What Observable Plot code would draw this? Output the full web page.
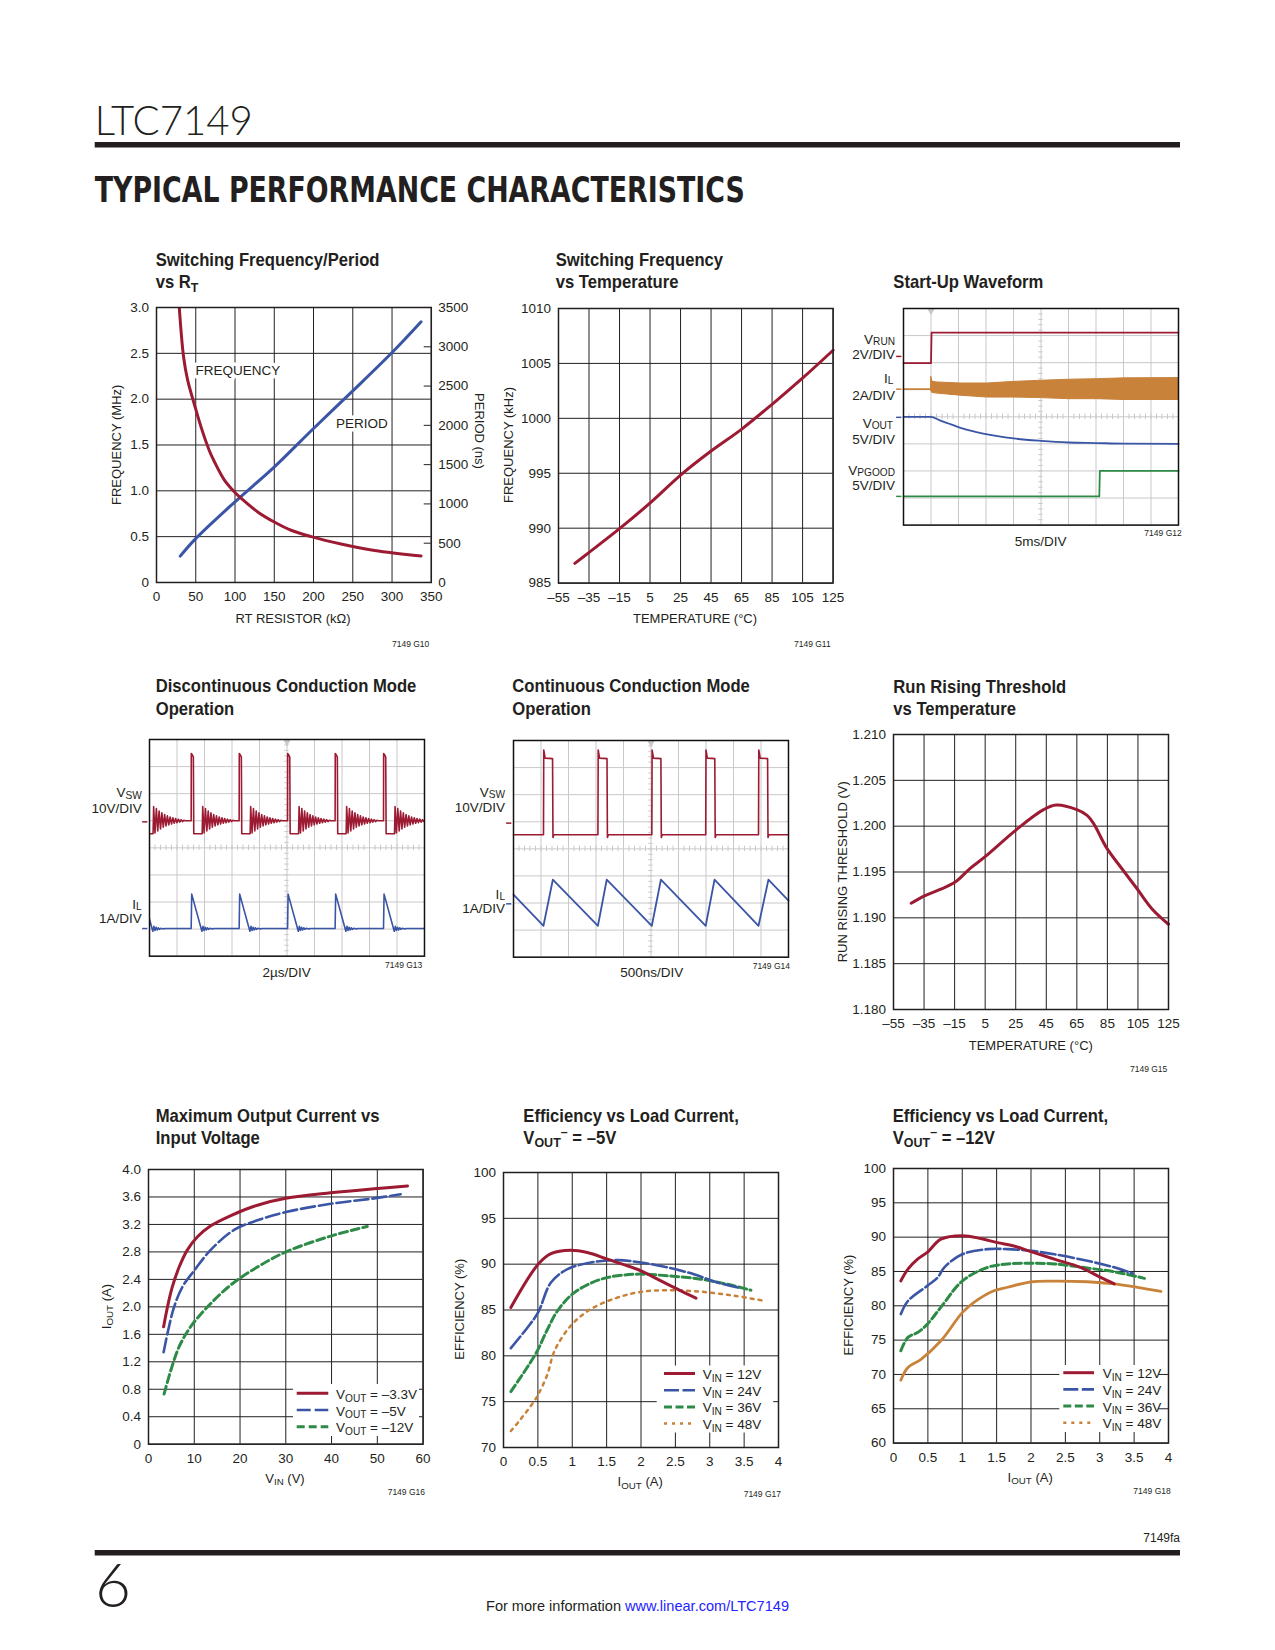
<!DOCTYPE html>
<html><head><meta charset="utf-8">
<script src="https://cdn.jsdelivr.net/npm/d3@7"></script>
<script src="https://cdn.jsdelivr.net/npm/@observablehq/plot@0.6"></script>
<style>
html,body{margin:0;padding:0;background:#fff;}
#page{position:relative;width:1275px;height:1650px;overflow:hidden;background:#fff;}
#overlay{position:absolute;left:0;top:0;pointer-events:none;overflow:visible;}
</style></head><body><div id="page"></div>
<script>
// ---------- colours / fonts ----------
const RED="#9c1b33", BLUE="#3a55a5", GREEN="#2e8b47", ORANGE="#c8823a", INK="#231f20", SGRID="#c9c9c9";
const FONT="'Liberation Sans Narrow','Arial Narrow',sans-serif";
const BOLDFONT="'Liberation Sans',Arial,sans-serif";

// ---------- Chart 1: Switching Frequency/Period vs RT ----------
const rtResF = [29, 34.5, 39.6, 48, 56.6, 67.2, 73.6, 86.3, 99, 107.6, 128.9, 150, 171.4, 197, 235, 277.8, 337];
const rtFreq = [3.0, 2.46, 2.21, 1.95, 1.70, 1.44, 1.32, 1.12, 0.99, 0.92, 0.77, 0.66, 0.57, 0.50, 0.42, 0.35, 0.29];
const rtResP = [30.2, 49.3, 100, 150.2, 200, 251, 301, 337];
const rtPeriod = [335, 552, 1027, 1472, 1960, 2448, 2936, 3318];
const rtTicksX = [0,50,100,150,200,250,300,350];
const rtTicksY = [0,0.5,1,1.5,2,2.5,3];
const periodTicks = [0,500,1000,1500,2000,2500,3000,3500];
const periodMax = 3500, freqMax = 3;

// ---------- Chart 2: Switching Frequency vs Temperature ----------
const tempF = [-44.3, -34.9, -14.6, 5.1, 25.6, 44.8, 64.9, 85.2, 105.3, 125];
const freqT = [986.8, 987.8, 990.0, 992.3, 994.9, 997.0, 999.0, 1001.3, 1003.7, 1006.2];
const tempTicks = [-55,-35,-15,5,25,45,65,85,105,125];
const freqTTicks = [985,990,995,1000,1005,1010];

// ---------- Chart 3: Start-Up Waveform (divisions) ----------
const vrunX = [0, 1.0, 1.02, 10];
const vrunY = [5.98, 5.98, 7.11, 7.11];
const ilPreX = [0, 1.0];
const ilPreY = [5.02, 5.02];
const ilBandX  = [1.0, 1.01, 1.05, 1.2, 2.07, 3.06, 4.03, 5.0, 6.03, 7.06, 8.03, 10];
const ilBandHi = [5.02, 5.48, 5.30, 5.27, 5.23, 5.23, 5.29, 5.33, 5.37, 5.39, 5.42, 5.43];
const ilBandLo = [5.02, 4.95, 4.88, 4.86, 4.78, 4.71, 4.71, 4.69, 4.65, 4.65, 4.62, 4.62];
const voutX = [0, 1.0, 1.3, 1.7, 2.2, 2.9, 4.0, 5.0, 6.0, 7.0, 8.0, 10];
const voutY = [4.0, 4.0, 3.88, 3.73, 3.55, 3.38, 3.2, 3.11, 3.05, 3.03, 3.01, 3.0];
const pgX = [0, 7.12, 7.14, 10];
const pgY = [1.06, 1.06, 2.0, 2.0];
const startMarkers = [6.23, 5.02, 3.98, 1.06];

// ---------- Chart 4: DCM (divisions) ----------
const dcmStarts = [-0.27, 1.515, 3.26, 5.02, 6.75, 8.51];
const dcmSwT = [0,0.005,0.05,0.08,0.095,0.40,0.42,0.47,0.52,0.57,0.62,0.67,0.72,0.77,0.82,0.87,0.92,0.97,1.02,1.07,1.12,1.17,1.22,1.27,1.32,1.37,1.42,1.47,1.52,1.57];
const dcmSwV = [5.0,7.48,7.42,7.35,4.52,4.52,5.52,4.55,5.45,4.62,5.36,4.70,5.29,4.76,5.23,4.81,5.18,4.85,5.14,4.88,5.11,4.91,5.08,4.93,5.06,4.95,5.04,4.97,5.02,5.0];
const dcmIlT = [0,0.02,0.39,0.43,0.47,0.51,0.55,0.59,0.63,0.68,0.75,0.85];
const dcmIlV = [1.02,2.29,0.92,1.10,0.95,1.07,0.97,1.05,0.99,1.03,1.01,1.02];
const dcmMarkers = [4.96, 1.02];

// ---------- Chart 5: CCM (divisions) ----------
const ccmRise = [1.09, 3.07, 5.03, 6.99, 8.91];
const ccmPulseT = [0, 0.01, 0.06, 0.33, 0.345, 0.38];
const ccmPulseV = [4.52, 7.65, 7.35, 7.33, 4.42, 4.52];
const ccmIlX = [0, 1.09, 1.43, 3.07, 3.39, 5.03, 5.36, 6.99, 7.31, 8.91, 9.27, 10];
const ccmIlY = [2.31, 1.16, 2.86, 1.16, 2.86, 1.16, 2.86, 1.16, 2.86, 1.16, 2.86, 2.09];
const ccmMarkers = [4.95, 1.97];

// ---------- Chart 6: Run Rising Threshold vs Temperature ----------
const tempR = [-43.4,-34.7,-24.5,-14.6,-4.8,5.2,25.3,43.2,51.5,65,71.5,75.9,84.6,93.4,104.3,114.1,125];
const runThr = [1.1916,1.1924,1.1931,1.1939,1.1954,1.1967,1.1996,1.2018,1.2023,1.2018,1.2012,1.2003,1.1976,1.1956,1.1932,1.1910,1.1893];
const runTicks = [1.18,1.185,1.19,1.195,1.2,1.205,1.21];

// ---------- Chart 7: Maximum Output Current vs Input Voltage ----------
const vin33 = [3.3,4.15,5.2,6.7,8.5,10.7,13.6,18,23.8,30,39.8,49.3,56.6];
const iout33 = [1.71,2.0,2.29,2.58,2.83,3.02,3.18,3.33,3.48,3.58,3.66,3.72,3.76];
const vin5 = [3.3,4.3,5.6,7.4,10,13.6,18.7,23.8,30,39.8,49.3,55.1];
const iout5 = [1.34,1.66,2.0,2.29,2.53,2.83,3.12,3.26,3.38,3.5,3.58,3.64];
const vin12 = [3.4,4.9,6.7,9.2,12.9,18,23.8,30,39.8,47.8];
const iout12 = [0.73,1.08,1.42,1.71,2.0,2.32,2.58,2.8,3.03,3.17];
const vinTicks = [0,10,20,30,40,50,60];
const ioutTicks = [0,0.4,0.8,1.2,1.6,2.0,2.4,2.8,3.2,3.6,4.0];

// ---------- Chart 8: Efficiency, VOUT = -5V ----------
const e5x12 = [0.107,0.504,0.69,0.98,1.22,1.51,1.76,2.0,2.24,2.53,2.8];
const e5y12 = [85.27,90.0,91.16,91.53,91.27,90.55,89.93,89.27,88.36,87.27,86.29];
const e5x24 = [0.107,0.35,0.504,0.69,0.93,1.27,1.66,2.0,2.39,2.77,3.11,3.45];
const e5y24 = [80.84,83.1,84.73,88.0,89.45,90.18,90.44,90.18,89.64,88.9,88.0,87.38];
const e5x36 = [0.107,0.47,0.64,0.785,1.03,1.42,1.9,2.39,2.87,3.26,3.6];
const e5y36 = [76.1,80.25,82.9,84.9,86.9,88.36,88.9,88.73,88.36,87.8,87.16];
const e5x48 = [0.107,0.23,0.45,0.52,0.64,0.74,0.98,1.27,1.66,2.0,2.39,2.87,3.36,3.79];
const e5y48 = [71.8,72.9,75.1,76.0,78.0,80.5,83.3,85.1,86.36,86.98,87.16,87.0,86.55,86.0];
const iTicks = [0,0.5,1,1.5,2,2.5,3,3.5,4];
const eff5Ticks = [70,75,80,85,90,95,100];

// ---------- Chart 9: Efficiency, VOUT = -12V ----------
const e12x12 = [0.107,0.21,0.35,0.49,0.69,1.0,1.27,1.51,1.75,2.0,2.34,2.72,3.02,3.21];
const e12y12 = [83.64,85.34,86.8,87.77,89.7,90.2,89.8,89.2,88.7,87.9,86.8,85.6,84.1,83.2];
const e12x24 = [0.107,0.21,0.49,0.64,0.74,1.0,1.37,1.66,2.0,2.34,2.82,3.21,3.48];
const e12y24 = [78.8,80.7,82.9,84.1,85.6,87.5,88.25,88.25,88.0,87.5,86.55,85.6,84.7];
const e12x36 = [0.107,0.21,0.35,0.49,0.69,1.0,1.37,1.66,2.0,2.34,2.82,3.21,3.65];
const e12y36 = [73.45,75.4,76.1,77.3,79.8,83.6,85.6,86.1,86.2,86.1,85.5,84.95,84.0];
const e12x48 = [0.107,0.21,0.4,0.69,1.0,1.17,1.46,1.66,2.0,2.34,2.82,3.21,3.55,3.89];
const e12y48 = [69.17,71.0,72.2,74.9,79.0,80.5,82.2,82.7,83.5,83.6,83.5,83.2,82.7,82.1];
const eff12Ticks = [60,65,70,75,80,85,90,95,100];

// scope grid structure
const divX = [0,1,2,3,4,5,6,7,8,9,10];
const divY = [0,1,2,3,4,5,6,7,8];
const minorX = d3.range(0, 10.001, 0.2);
const minorY = d3.range(0, 8.001, 0.2);

// ---------- helpers ----------
const page = document.getElementById("page");
const pts = (xs, ys) => xs.map((x, i) => ({x, y: ys[i]}));
const fmtT = d => d < 0 ? "–" + Math.abs(d) : String(d);
const fmt1 = d => d === 0 ? "0" : d.toFixed(1);
function place(svg, left, top) {
  svg.style.position = "absolute";
  svg.style.left = left + "px";
  svg.style.top = top + "px";
  svg.style.overflow = "visible";
  svg.style.background = "transparent";
  page.appendChild(svg);
}
const baseStyle = {fontFamily: FONT, fontSize: "13.5px", color: INK, background: "transparent", overflow: "visible"};

function stdPlot({L, T, R, B, xDomain, yDomain, xTicks, yTicks, xFmt, yFmt, marks}) {
  const ml = 70, mr = 70, mt = 10, mb = 40;
  const svg = Plot.plot({
    width: (R - L) + ml + mr, height: (B - T) + mt + mb,
    marginLeft: ml, marginRight: mr, marginTop: mt, marginBottom: mb,
    x: {domain: xDomain}, y: {domain: yDomain},
    style: baseStyle,
    marks: [
      Plot.gridX(xTicks, {stroke: INK, strokeOpacity: 1, strokeWidth: 1}),
      Plot.gridY(yTicks, {stroke: INK, strokeOpacity: 1, strokeWidth: 1}),
      ...marks,
      Plot.axisX(xTicks, {tickSize: 0, tickPadding: 9, tickFormat: xFmt || String, label: null}),
      Plot.axisY(yTicks, {tickSize: 0, tickPadding: 7.5, tickFormat: yFmt || String, label: null}),
      Plot.frame({stroke: INK, strokeWidth: 1.5})
    ]
  });
  place(svg, L - ml, T - mt);
}

function scopePlot({L, T, R, B, trig, markers, marks}) {
  const ml = 70, mr = 10, mt = 10, mb = 10;
  const svg = Plot.plot({
    width: (R - L) + ml + mr, height: (B - T) + mt + mb,
    marginLeft: ml, marginRight: mr, marginTop: mt, marginBottom: mb,
    x: {domain: [0, 10], axis: null}, y: {domain: [0, 8], axis: null},
    style: baseStyle,
    marks: [
      Plot.gridX(divX, {stroke: SGRID, strokeOpacity: 1, strokeWidth: 1}),
      Plot.gridY(divY, {stroke: SGRID, strokeOpacity: 1, strokeWidth: 1}),
      Plot.ruleX(minorX, {y1: 3.9, y2: 4.1, stroke: SGRID, strokeWidth: 1}),
      Plot.ruleY(minorY, {x1: 4.92, x2: 5.08, stroke: SGRID, strokeWidth: 1}),
      Plot.dot([trig], {x: d => d, y: 8, symbol: "triangle", r: 3, fill: SGRID, rotate: 180, dy: 2}),
      ...markers.map(([v, c]) => Plot.ruleY([v], {x1: -0.25, x2: -0.06, stroke: c, strokeWidth: 1.5})),
      ...marks,
      Plot.frame({stroke: "#111", strokeWidth: 1.5})
    ]
  });
  place(svg, L - ml, T - mt);
}

function cycles(starts, relT, relV, tail) {
  const out = [];
  for (const s of starts) relT.forEach((t, i) => out.push({x: s + t, y: relV[i]}));
  if (tail) out.push(tail);
  return out;
}

// ---------- Chart 1 ----------
stdPlot({
  L: 155.7, T: 307.3, R: 430.5, B: 582.3,
  xDomain: [0, 350], yDomain: [0, 3], xTicks: rtTicksX, yTicks: rtTicksY, yFmt: fmt1,
  marks: [
    Plot.ruleY(periodTicks.map(p => p * freqMax / periodMax), {x1: 341, x2: 350, stroke: INK, strokeWidth: 1}),
    Plot.axisY(periodTicks.map(p => p * freqMax / periodMax), {anchor: "right", tickSize: 0, tickPadding: 7,
      tickFormat: d => String(Math.round(d * periodMax / freqMax)), label: null}),
    Plot.text([{x: 103.7, y: 2.31, t: "FREQUENCY"}, {x: 261.6, y: 1.735, t: "PERIOD"}],
      {x: "x", y: "y", text: "t", fill: INK, stroke: "white", strokeWidth: 7, paintOrder: "stroke", fontSize: 13.5}),
    Plot.line(pts(rtResP, rtPeriod), {x: "x", y: d => d.y * freqMax / periodMax, stroke: BLUE, strokeWidth: 3, curve: "catmull-rom"}),
    Plot.line(pts(rtResF, rtFreq), {x: "x", y: "y", stroke: RED, strokeWidth: 3, curve: "catmull-rom", clip: true})
  ]
});

// ---------- Chart 2 ----------
stdPlot({
  L: 557.7, T: 307.7, R: 832.3, B: 582.3,
  xDomain: [-55, 125], yDomain: [985, 1010], xTicks: tempTicks, yTicks: freqTTicks, xFmt: fmtT,
  marks: [Plot.line(pts(tempF, freqT), {x: "x", y: "y", stroke: RED, strokeWidth: 3, curve: "catmull-rom"})]
});

// ---------- Chart 3 ----------
scopePlot({
  L: 903.3, T: 307.7, R: 1178.3, B: 524.3, trig: 1.0,
  markers: [[startMarkers[0], RED], [startMarkers[1], ORANGE], [startMarkers[2], BLUE], [startMarkers[3], GREEN]],
  marks: [
    Plot.areaY(ilBandX.map((x, i) => ({x, lo: ilBandLo[i], hi: ilBandHi[i]})), {x: "x", y1: "lo", y2: "hi", fill: ORANGE, stroke: ORANGE, strokeWidth: 1}),
    Plot.line(pts(ilPreX, ilPreY), {x: "x", y: "y", stroke: ORANGE, strokeWidth: 1.8}),
    Plot.line(pts(vrunX, vrunY), {x: "x", y: "y", stroke: RED, strokeWidth: 1.8}),
    Plot.line(pts(voutX, voutY), {x: "x", y: "y", stroke: BLUE, strokeWidth: 1.8, curve: "monotone-x"}),
    Plot.line(pts(pgX, pgY), {x: "x", y: "y", stroke: GREEN, strokeWidth: 1.8})
  ]
});

// ---------- Chart 4 ----------
scopePlot({
  L: 149.3, T: 739.3, R: 424.3, B: 956, trig: 5,
  markers: [[dcmMarkers[0], RED], [dcmMarkers[1], BLUE]],
  marks: [
    Plot.line(cycles(dcmStarts, dcmSwT, dcmSwV, {x: 10.2, y: 5.0}), {x: "x", y: "y", stroke: RED, strokeWidth: 1.6, clip: true}),
    Plot.line(cycles(dcmStarts, dcmIlT, dcmIlV, {x: 10.2, y: 1.02}), {x: "x", y: "y", stroke: BLUE, strokeWidth: 1.6, clip: true})
  ]
});

// ---------- Chart 5 ----------
scopePlot({
  L: 513.3, T: 740, R: 788.3, B: 956.7, trig: 5,
  markers: [[ccmMarkers[0], RED], [ccmMarkers[1], BLUE]],
  marks: [
    Plot.line([{x: 0, y: 4.52}, ...cycles(ccmRise, ccmPulseT, ccmPulseV), {x: 10, y: 4.52}], {x: "x", y: "y", stroke: RED, strokeWidth: 1.6}),
    Plot.line(pts(ccmIlX, ccmIlY), {x: "x", y: "y", stroke: BLUE, strokeWidth: 1.8})
  ]
});

// ---------- Chart 6 ----------
stdPlot({
  L: 893.3, T: 734.3, R: 1168.3, B: 1009.3,
  xDomain: [-55, 125], yDomain: [1.18, 1.21], xTicks: tempTicks, yTicks: runTicks, xFmt: fmtT, yFmt: d => d.toFixed(3),
  marks: [Plot.line(pts(tempR, runThr), {x: "x", y: "y", stroke: RED, strokeWidth: 3, curve: "catmull-rom"})]
});

// ---------- Chart 7 ----------
stdPlot({
  L: 147.7, T: 1169.3, R: 422.3, B: 1444,
  xDomain: [0, 60], yDomain: [0, 4], xTicks: vinTicks, yTicks: ioutTicks, yFmt: fmt1,
  marks: [
    Plot.line(pts(vin12, iout12), {x: "x", y: "y", stroke: GREEN, strokeWidth: 3, strokeDasharray: "8,4", curve: "catmull-rom"}),
    Plot.line(pts(vin5, iout5), {x: "x", y: "y", stroke: BLUE, strokeWidth: 2.6, strokeDasharray: "14,4", curve: "catmull-rom"}),
    Plot.line(pts(vin33, iout33), {x: "x", y: "y", stroke: RED, strokeWidth: 3, curve: "catmull-rom"})
  ]
});

// ---------- Chart 8 ----------
stdPlot({
  L: 502.7, T: 1171.7, R: 777.7, B: 1446.7,
  xDomain: [0, 4], yDomain: [70, 100], xTicks: iTicks, yTicks: eff5Ticks,
  marks: [
    Plot.line(pts(e5x48, e5y48), {x: "x", y: "y", stroke: ORANGE, strokeWidth: 2.5, strokeDasharray: "3,5", curve: "catmull-rom"}),
    Plot.line(pts(e5x36, e5y36), {x: "x", y: "y", stroke: GREEN, strokeWidth: 3, strokeDasharray: "8,3.5", curve: "catmull-rom"}),
    Plot.line(pts(e5x24, e5y24), {x: "x", y: "y", stroke: BLUE, strokeWidth: 2.6, strokeDasharray: "15,3.5", curve: "catmull-rom"}),
    Plot.line(pts(e5x12, e5y12), {x: "x", y: "y", stroke: RED, strokeWidth: 3, curve: "catmull-rom"})
  ]
});

// ---------- Chart 9 ----------
stdPlot({
  L: 892.7, T: 1167.7, R: 1167.7, B: 1442.3,
  xDomain: [0, 4], yDomain: [60, 100], xTicks: iTicks, yTicks: eff12Ticks,
  marks: [
    Plot.line(pts(e12x48, e12y48), {x: "x", y: "y", stroke: ORANGE, strokeWidth: 2.8, curve: "catmull-rom"}),
    Plot.line(pts(e12x36, e12y36), {x: "x", y: "y", stroke: GREEN, strokeWidth: 3, strokeDasharray: "8,3.5", curve: "catmull-rom"}),
    Plot.line(pts(e12x24, e12y24), {x: "x", y: "y", stroke: BLUE, strokeWidth: 2.6, strokeDasharray: "15,3.5", curve: "catmull-rom"}),
    Plot.line(pts(e12x12, e12y12), {x: "x", y: "y", stroke: RED, strokeWidth: 3, curve: "catmull-rom"})
  ]
});

// ---------- overlay: page text, titles, labels, legends ----------
const NS = "http://www.w3.org/2000/svg";
const ov = document.createElementNS(NS, "svg");
ov.setAttribute("width", "1275"); ov.setAttribute("height", "1650"); ov.setAttribute("id", "overlay");
page.appendChild(ov);
function el(tag, attrs) {
  const e = document.createElementNS(NS, tag);
  for (const k in attrs) e.setAttribute(k, attrs[k]);
  ov.appendChild(e); return e;
}
function txt(x, y, parts, o = {}) {
  const size = o.size || 13;
  const t = el("text", {"font-family": o.family || FONT, "font-size": size, fill: o.fill || INK});
  if (o.weight) t.setAttribute("font-weight", o.weight);
  if (o.anchor) t.setAttribute("text-anchor", o.anchor);
  let tf = `translate(${x},${y})`;
  if (o.rotate) tf += ` rotate(${o.rotate})`;
  if (o.sx) tf += ` scale(${o.sx},1)`;
  t.setAttribute("transform", tf);
  if (o.len) { t.setAttribute("textLength", o.len); t.setAttribute("lengthAdjust", "spacingAndGlyphs"); }
  if (!Array.isArray(parts)) parts = [parts];
  let cur = 0;
  const subDrop = o.subDrop != null ? o.subDrop : 0.2;
  for (const p of parts) {
    const [s, kind, fill] = Array.isArray(p) ? p : [p];
    const target = kind === "sub" ? size * subDrop : kind === "sup" ? -size * 0.42 : 0;
    const ts = document.createElementNS(NS, "tspan");
    ts.setAttribute("dy", target - cur); cur = target;
    if (kind) ts.setAttribute("font-size", size * 0.75);
    if (fill) ts.setAttribute("fill", fill);
    ts.textContent = s; t.appendChild(ts);
  }
  return t;
}
const title = (x, y, parts) => txt(x, y, parts, {size: 18, weight: "bold", family: BOLDFONT, sx: 0.925});
const gnum = (x, y, s) => txt(x, y, s, {size: 8.5, anchor: "end"});
const scopeLbl = (x, y, parts) => txt(x, y, parts, {size: 13.5, anchor: "end", subDrop: 0.12});

// header
txt(94.7, 135, "LTC7149", {family: "Lato, 'DejaVu Sans', sans-serif", weight: 300, size: 41, len: 158});
el("rect", {x: 94.7, y: 142, width: 1085.3, height: 5.5, fill: INK});
txt(94.7, 202, "TYPICAL PERFORMANCE CHARACTERISTICS", {family: "'DejaVu Sans', sans-serif", weight: "bold", size: 36, len: 650});

// footer
txt(1180, 1541.5, "7149fa", {size: 12, anchor: "end"});
el("rect", {x: 94.7, y: 1550, width: 1085.3, height: 5.5, fill: INK});
txt(95, 1607, "6", {family: "Lato, 'DejaVu Sans', sans-serif", weight: 300, size: 62});
txt(486, 1611, ["For more information ", ["www.linear.com/LTC7149", null, "#2323ff"]], {size: 15, len: 303});

// chart titles
title(155.7, 266, "Switching Frequency/Period");
title(155.7, 288, ["vs R", ["T", "sub"]]);
title(555.7, 266, "Switching Frequency");
title(555.7, 288, "vs Temperature");
title(893.3, 288, "Start-Up Waveform");
title(155.7, 692, "Discontinuous Conduction Mode");
title(155.7, 715, "Operation");
title(512.3, 692, "Continuous Conduction Mode");
title(512.3, 715, "Operation");
title(893.3, 692.7, "Run Rising Threshold");
title(893.3, 715, "vs Temperature");
title(155.7, 1121.5, "Maximum Output Current  vs");
title(155.7, 1143.5, "Input Voltage");
title(523.3, 1121.5, "Efficiency vs Load Current,");
title(523.3, 1143.5, ["V", ["OUT", "sub"], ["–", "sup"], " = –5V"]);
title(892.7, 1121.5, "Efficiency vs Load Current,");
title(892.7, 1143.5, ["V", ["OUT", "sub"], ["–", "sup"], " = –12V"]);

// axis labels
txt(120.5, 444.8, "FREQUENCY (MHz)", {rotate: -90, anchor: "middle"});
txt(474.5, 431, "PERIOD (ns)", {rotate: 90, anchor: "middle"});
txt(293, 623.3, "RT RESISTOR (kΩ)", {anchor: "middle"});
txt(513.3, 445, "FREQUENCY (kHz)", {rotate: -90, anchor: "middle"});
txt(695, 623.3, "TEMPERATURE (°C)", {anchor: "middle"});
txt(846.5, 871.8, "RUN RISING THRESHOLD (V)", {rotate: -90, anchor: "middle"});
txt(1030.8, 1050, "TEMPERATURE (°C)", {anchor: "middle"});
txt(110.7, 1306.6, ["I", ["OUT", "sub"], " (A)"], {rotate: -90, anchor: "middle"});
txt(285, 1482.7, ["V", ["IN", "sub"], " (V)"], {anchor: "middle"});
txt(464, 1309.2, "EFFICIENCY (%)", {rotate: -90, anchor: "middle"});
txt(640.2, 1486, ["I", ["OUT", "sub"], " (A)"], {anchor: "middle"});
txt(852.7, 1305, "EFFICIENCY (%)", {rotate: -90, anchor: "middle"});
txt(1030.2, 1481.7, ["I", ["OUT", "sub"], " (A)"], {anchor: "middle"});

// scope labels
scopeLbl(895, 343.5, ["V", ["RUN", "sub"]]);
scopeLbl(895, 359.3, "2V/DIV");
scopeLbl(893.3, 382.5, ["I", ["L", "sub"]]);
scopeLbl(895, 400, "2A/DIV");
scopeLbl(893, 427.5, ["V", ["OUT", "sub"]]);
scopeLbl(895, 444, "5V/DIV");
scopeLbl(895, 474.5, ["V", ["PGOOD", "sub"]]);
scopeLbl(895, 490, "5V/DIV");
txt(1040.7, 546, "5ms/DIV", {anchor: "middle", size: 13.5});

scopeLbl(141.7, 797, ["V", ["SW", "sub"]]);
scopeLbl(141.7, 812.7, "10V/DIV");
scopeLbl(141.7, 908.5, ["I", ["L", "sub"]]);
scopeLbl(141.7, 923.3, "1A/DIV");
txt(286.7, 977, "2µs/DIV", {anchor: "middle", size: 13.5});

scopeLbl(505, 796.5, ["V", ["SW", "sub"]]);
scopeLbl(505, 811.7, "10V/DIV");
scopeLbl(505, 898.5, ["I", ["L", "sub"]]);
scopeLbl(505, 913.3, "1A/DIV");
txt(651.7, 977, "500ns/DIV", {anchor: "middle", size: 13.5});

// figure numbers
gnum(429.3, 646.7, "7149 G10");
gnum(830.7, 646.7, "7149 G11");
gnum(1181.7, 536, "7149 G12");
gnum(422.3, 968.3, "7149 G13");
gnum(790, 969, "7149 G14");
gnum(1167.3, 1072.3, "7149 G15");
gnum(425, 1495, "7149 G16");
gnum(781, 1497.3, "7149 G17");
gnum(1170.7, 1494, "7149 G18");

// legends
function legend(box, lx1, lx2, tx, rows) {
  el("rect", {x: box[0], y: box[1], width: box[2], height: box[3], fill: "#fff"});
  for (const r of rows) {
    el("line", {x1: lx1, x2: lx2, y1: r.y, y2: r.y, stroke: r.c, "stroke-width": r.w, "stroke-dasharray": r.dash || "none"});
    txt(tx, r.y + 5.5, r.parts, {size: 13.5});
  }
}
const vinParts = v => ["V", ["IN", "sub"], " = " + v];
legend([293, 1384, 126, 52], 296.7, 328.3, 336, [
  {y: 1393.3, c: RED, w: 3, parts: ["V", ["OUT", "sub"], " = –3.3V"]},
  {y: 1410, c: BLUE, w: 2.6, dash: "14,4", parts: ["V", ["OUT", "sub"], " = –5V"]},
  {y: 1426.7, c: GREEN, w: 3, dash: "8,4", parts: ["V", ["OUT", "sub"], " = –12V"]}
]);
legend([656.7, 1365.5, 116.5, 67], 664, 695, 702.7, [
  {y: 1373.5, c: RED, w: 3, parts: vinParts("12V")},
  {y: 1390.2, c: BLUE, w: 2.6, dash: "15,3.5", parts: vinParts("24V")},
  {y: 1406.9, c: GREEN, w: 3, dash: "8,3.5", parts: vinParts("36V")},
  {y: 1423.6, c: ORANGE, w: 2.5, dash: "3,5", parts: vinParts("48V")}
]);
legend([1059.3, 1365, 99, 67], 1063.3, 1094, 1102.7, [
  {y: 1372.7, c: RED, w: 3, parts: vinParts("12V")},
  {y: 1389.4, c: BLUE, w: 2.6, dash: "15,3.5", parts: vinParts("24V")},
  {y: 1406.1, c: GREEN, w: 3, dash: "8,3.5", parts: vinParts("36V")},
  {y: 1422.8, c: ORANGE, w: 2.5, dash: "3,5", parts: vinParts("48V")}
]);
</script></body></html>
